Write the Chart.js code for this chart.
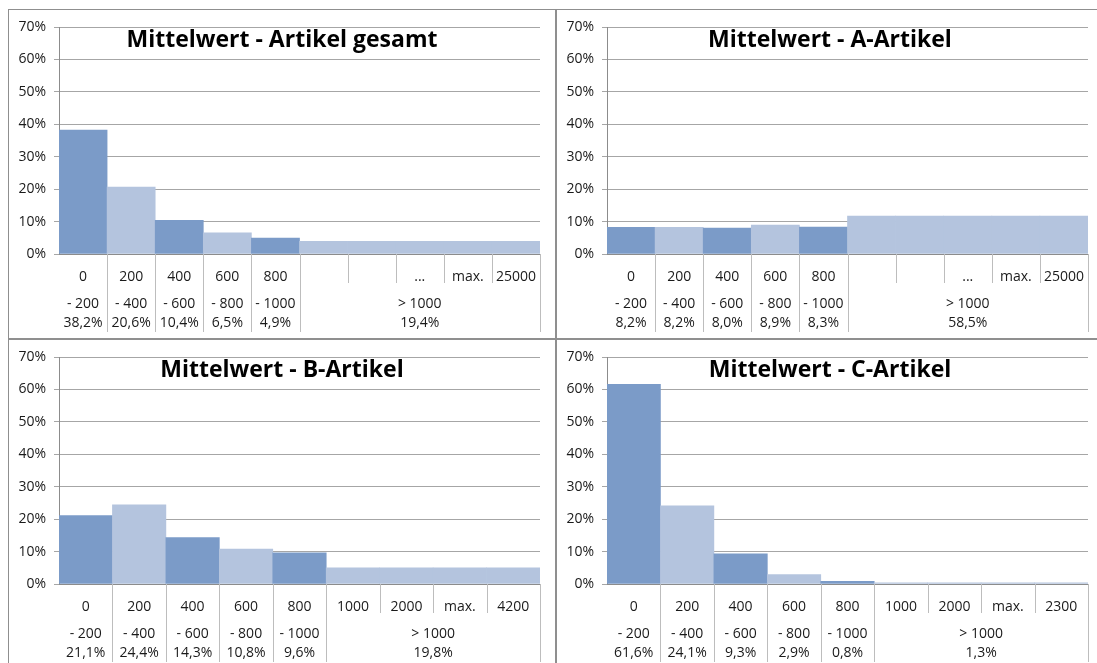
<!DOCTYPE html>
<html lang="de">
<head>
<meta charset="utf-8">
<title>Mittelwert – Verteilung nach Artikelgruppen</title>
<script src="https://cdn.jsdelivr.net/npm/chart.js@4.4.1/dist/chart.umd.min.js"></script>
<style>
  html, body { margin: 0; padding: 0; background: #fff; overflow: hidden; }
  body { width: 1097px; height: 663px; position: relative; }
  .panel {
    position: absolute;
    width: 548px;
    height: 330px;
    box-sizing: border-box;
    border: 1px solid #8f8f8f;
    background: #fff;
  }
  .panel canvas { position: absolute; left: 0; top: 0; }
  .panel h2 {
    position: absolute;
    left: 0; right: 0; top: 17px;
    margin: 0;
    text-align: center;
    font: bold 23px/1 "Open Sans", sans-serif;
    color: #000;
    pointer-events: none;
  }
</style>
</head>
<body>

<div class="panel" style="left:8px; top:9px;">
  <canvas id="chartAll" width="546" height="328"></canvas>
  <h2>Mittelwert - Artikel gesamt</h2>
</div>
<div class="panel" style="left:556px; top:9px;">
  <canvas id="chartA" width="546" height="328"></canvas>
  <h2>Mittelwert - A-Artikel</h2>
</div>
<div class="panel" style="left:8px; top:339px;">
  <canvas id="chartB" width="546" height="328"></canvas>
  <h2>Mittelwert - B-Artikel</h2>
</div>
<div class="panel" style="left:556px; top:339px;">
  <canvas id="chartC" width="546" height="328"></canvas>
  <h2>Mittelwert - C-Artikel</h2>
</div>

<script>
// Bin start values shown under each bar
const binsWide = ['0', '200', '400', '600', '800', '', '', '...', 'max.', '25000'];
const binsB = ['0', '200', '400', '600', '800', '1000', '2000', 'max.', '4200'];
const binsC = ['0', '200', '400', '600', '800', '1000', '2000', 'max.', '2300'];

// Range groups and their shares (%)
const ranges = ['- 200', '- 400', '- 600', '- 800', '- 1000', '> 1000'];
const sharesAll = [38.2, 20.6, 10.4, 6.5, 4.9, 19.4];
const sharesA = [8.2, 8.2, 8.0, 8.9, 8.3, 58.5];
const sharesB = [21.1, 24.4, 14.3, 10.8, 9.6, 19.8];
const sharesC = [61.6, 24.1, 9.3, 2.9, 0.8, 1.3];

const yMax = 70;
const yStep = 10;

const DARK = '#7b9bc8';
const LIGHT = '#b4c4de';
const FONT = '"Open Sans", sans-serif';
const TEXT = '#1a1a1a';

// Draws the table under the x axis: column lines and the range / share rows
const binTable = {
    id: 'binTable',
    afterDraw(chart, args, opts) {
        const ctx = chart.ctx;
        const x = chart.scales.x;
        const n = chart.data.labels.length;
        const single = opts.shares.length - 1;   // ranges that own one column
        const half = (x.getPixelForValue(1) - x.getPixelForValue(0)) / 2;
        const top = chart.chartArea.bottom;

        ctx.save();
        ctx.strokeStyle = '#bdbdbd';
        ctx.lineWidth = 1;
        for (let i = 0; i < n; i++) {
            const px = Math.round(x.getPixelForValue(i) + half) + 0.5;
            const full = i < single || i === n - 1;
            ctx.beginPath();
            ctx.moveTo(px, top);
            ctx.lineTo(px, top + (full ? 78 : 29));
            ctx.stroke();
        }

        ctx.fillStyle = TEXT;
        ctx.font = '14px ' + FONT;
        ctx.textAlign = 'center';
        ctx.textBaseline = 'alphabetic';
        opts.shares.forEach((share, i) => {
            let cx;
            if (i < single) {
                cx = x.getPixelForValue(i);
            } else {
                cx = (x.getPixelForValue(single) + x.getPixelForValue(n - 1)) / 2;
            }
            const text = share.toFixed(1).replace('.', ',') + '%';
            ctx.fillText(ranges[i], cx, top + 54);
            ctx.fillText(text, cx, top + 73);
        });
        ctx.restore();
    }
};

function makeChart(id, bins, shares) {
    const single = shares.length - 1;
    const tailBins = bins.length - single;
    // the "> 1000" share is spread evenly over its bins
    const tail = shares[single] / tailBins;
    const values = bins.map((b, i) => i < single ? shares[i] : tail);
    const colors = bins.map((b, i) => i < single && i % 2 === 0 ? DARK : LIGHT);

    const ctx = document.getElementById(id).getContext('2d');
    return new Chart(ctx, {
        type: 'bar',
        data: {
            labels: bins,
            datasets: [{
                data: values,
                backgroundColor: colors,
                borderWidth: 0,
                barPercentage: 1,
                categoryPercentage: 1
            }]
        },
        options: {
            responsive: false,
            animation: false,
            events: [],
            layout: {
                padding: { top: 17, right: 15, bottom: 0, left: 0 }
            },
            plugins: {
                legend: { display: false },
                tooltip: { enabled: false },
                binTable: { shares: shares }
            },
            scales: {
                x: {
                    grid: { display: false },
                    border: { display: true, color: '#8c8c8c' },
                    ticks: {
                        color: TEXT,
                        font: { family: FONT, size: 14 },
                        padding: 7,
                        maxRotation: 0,
                        autoSkip: false
                    },
                    afterFit: function(scale) { scale.height = 84; }
                },
                y: {
                    min: 0,
                    max: yMax,
                    grid: { color: '#a6a6a6', tickLength: 5 },
                    border: { display: true, color: '#8c8c8c' },
                    ticks: {
                        stepSize: yStep,
                        color: TEXT,
                        font: { family: FONT, size: 14 },
                        padding: 8,
                        callback: function(value) { return value + '%'; }
                    },
                    afterFit: function(scale) { scale.width = 50; }
                }
            }
        },
        plugins: [binTable]
    });
}

makeChart('chartAll', binsWide, sharesAll);
makeChart('chartA', binsWide, sharesA);
makeChart('chartB', binsB, sharesB);
makeChart('chartC', binsC, sharesC);
</script>
</body>
</html>
